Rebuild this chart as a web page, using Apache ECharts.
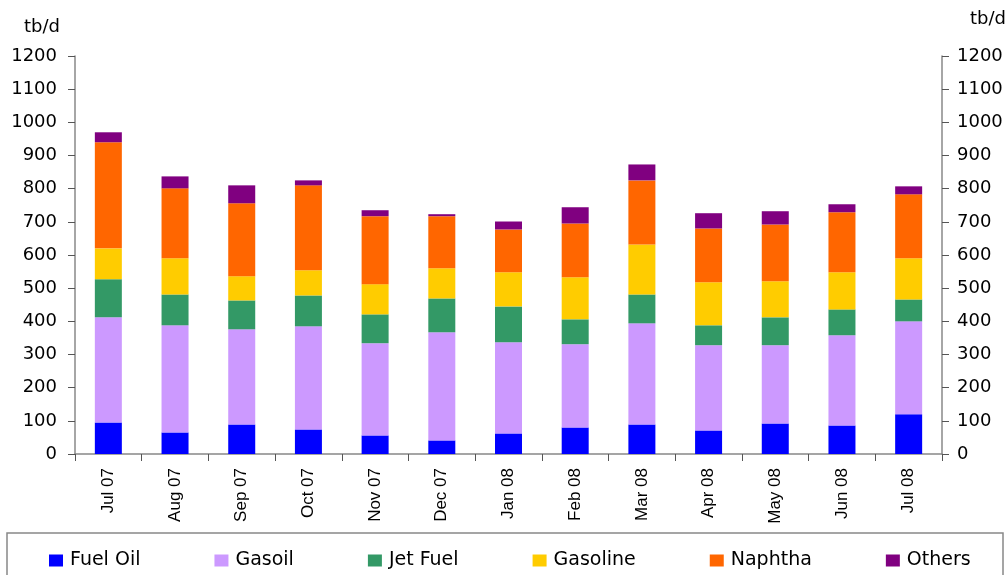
<!DOCTYPE html>
<html>
<head>
<meta charset="utf-8">
<script src="https://cdn.jsdelivr.net/npm/echarts@6/dist/echarts.min.js"></script>
<style>
html,body{margin:0;padding:0;background:#fff;}
#chart{width:1008px;height:575px;}
</style>
</head>
<body>
<div id="chart"></div>
<script>
var months = ['Jul 07','Aug 07','Sep 07','Oct 07','Nov 07','Dec 07','Jan 08','Feb 08','Mar 08','Apr 08','May 08','Jun 08','Jul 08'];
var fuelOil  = [95, 65, 89, 74, 56, 41, 62, 80, 89, 71, 92, 86, 120];
var gasoil   = [317, 323, 287, 311, 278, 326, 275, 251, 305, 257, 236, 272, 280];
var jetFuel  = [115, 93, 87, 93, 87, 102, 108, 75, 87, 60, 84, 78, 66];
var gasoline = [93, 109, 73, 76, 91, 91, 103, 127, 151, 130, 109, 112, 124];
var naphtha  = [320, 211, 220, 256, 205, 157, 129, 162, 193, 162, 171, 181, 193];
var others   = [30, 36, 54, 15, 18, 6, 24, 49, 48, 46, 40, 24, 24];
var yTicks = [0,100,200,300,400,500,600,700,800,900,1000,1100,1200];
var unitLabel = 'tb/d';

var seriesDefs = [
  ['Fuel Oil', fuelOil, '#0000FF'],
  ['Gasoil', gasoil, '#CC99FF'],
  ['Jet Fuel', jetFuel, '#339966'],
  ['Gasoline', gasoline, '#FFCC00'],
  ['Naphtha', naphtha, '#FF6600'],
  ['Others', others, '#800080']
];

var axisColor = '#888888';
var font = 'DejaVu Sans';

function yAxisDef(pos, margin) {
  return {
    type: 'value',
    position: pos,
    min: yTicks[0],
    max: yTicks[yTicks.length - 1],
    interval: 100,
    axisLine: {show: true, lineStyle: {color: axisColor, width: 1.5}},
    axisTick: {show: true, inside: false, length: 7, lineStyle: {color: '#555', width: 1}},
    axisLabel: {color: '#000', fontFamily: font, fontSize: 18, margin: margin,
      formatter: function (v) { return String(v); }},
    splitLine: {show: false}
  };
}

var chart = echarts.init(document.getElementById('chart'));
chart.setOption({
  animation: false,
  backgroundColor: '#fff',
  grid: {left: 75, right: 66, top: 56, bottom: 121, containLabel: false},
  xAxis: {
    type: 'category',
    data: months,
    axisLine: {show: true, lineStyle: {color: axisColor, width: 1.5}},
    axisTick: {show: true, inside: false, length: 7, alignWithLabel: false, lineStyle: {color: '#555', width: 1}},
    axisLabel: {color: '#000', fontFamily: 'Liberation Sans', fontSize: 17, rotate: 90, margin: 14, interval: 0}
  },
  yAxis: [yAxisDef('left', 18), yAxisDef('right', 15)],
  legend: {
    left: 44,
    top: 546,
    itemWidth: 14,
    itemHeight: 12,
    itemGap: 74,
    icon: 'rect',
    textStyle: {color: '#000', fontFamily: font, fontSize: 19, padding: [0, 0, 0, 2]},
    data: seriesDefs.map(function (d) { return d[0]; })
  },
  graphic: [
    {type: 'rect', z: -1, shape: {x: 7, y: 533, width: 996, height: 60}, style: {fill: 'none', stroke: axisColor, lineWidth: 1.5}},
    {type: 'text', left: 24, top: 18, style: {text: unitLabel, font: '18px "DejaVu Sans"', fill: '#000'}},
    {type: 'text', left: 970, top: 10, style: {text: unitLabel, font: '18px "DejaVu Sans"', fill: '#000'}}
  ],
  series: seriesDefs.map(function (d) {
    return {
      name: d[0],
      type: 'bar',
      stack: 'total',
      barWidth: 27,
      yAxisIndex: 0,
      data: d[1],
      itemStyle: {color: d[2]}
    };
  })
});
</script>
</body>
</html>
